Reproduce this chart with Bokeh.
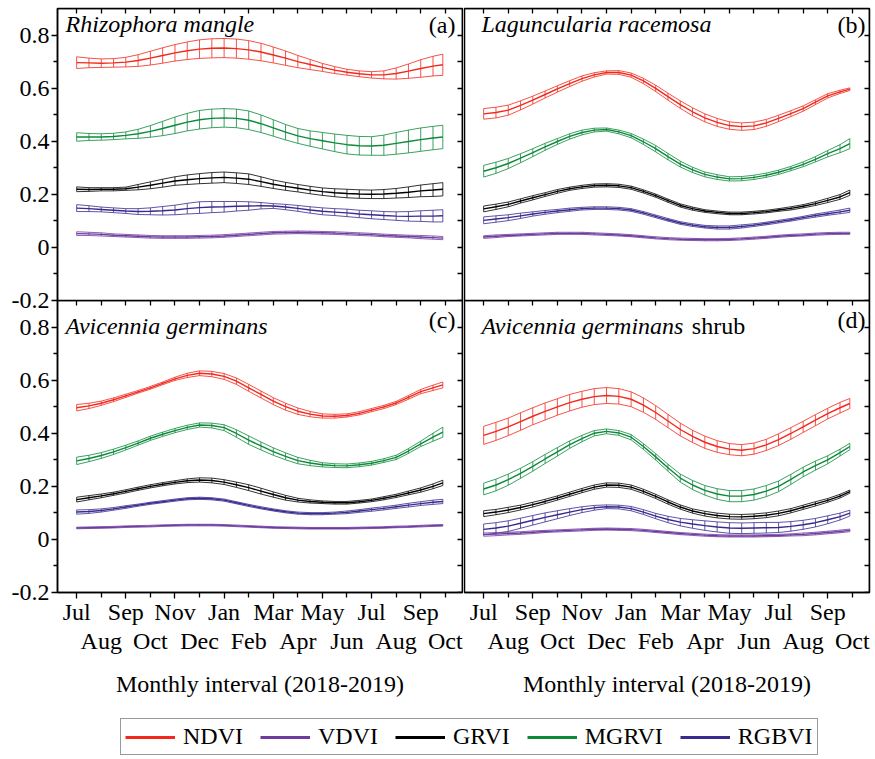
from bokeh.plotting import figure
from bokeh.models import Range1d, LinearAxis, FixedTicker, Label, Legend, LegendItem, ColumnDataSource
from bokeh.layouts import column, row
from bokeh.embed import file_html
from bokeh.resources import INLINE

# ---------------- data ----------------
months = [0.0, 0.5, 1.0, 1.5, 2.0, 2.5, 3.0, 3.5, 4.0, 4.5,
          5.0, 5.5, 6.0, 6.5, 7.0, 7.5, 8.0, 8.5, 9.0, 9.5,
          10.0, 10.5, 11.0, 11.5, 12.0, 12.5, 13.0, 13.5, 14.0, 14.5, 14.9]

x_top_ticks = [0, 2, 4, 6, 8, 10, 12, 14]
x_top_labels = ["Jul", "Sep", "Nov", "Jan", "Mar", "May", "Jul", "Sep"]
x_bot_ticks = [1, 3, 5, 7, 9, 11, 13, 15]
x_bot_labels = ["Aug", "Oct", "Dec", "Feb", "Apr", "Jun", "Aug", "Oct"]
y_ticks = [-0.2, 0.0, 0.2, 0.4, 0.6, 0.8]
y_tick_labels = ["-0.2", "0", "0.2", "0.4", "0.6", "0.8"]
y_minor_ticks = [-0.1, 0.1, 0.3, 0.5, 0.7]

series_names = ["NDVI", "VDVI", "GRVI", "MGRVI", "RGBVI"]

# (a) Rhizophora mangle
a_ndvi = [0.696, 0.695, 0.694, 0.695, 0.698, 0.704, 0.713, 0.723, 0.733, 0.741,
          0.747, 0.750, 0.751, 0.749, 0.744, 0.736, 0.725, 0.713, 0.700, 0.689,
          0.678, 0.668, 0.660, 0.654, 0.650, 0.650, 0.655, 0.664, 0.674, 0.683, 0.688]
a_ndvi_err = [0.022, 0.018, 0.016, 0.016, 0.018, 0.022, 0.026, 0.029, 0.031, 0.033,
              0.035, 0.036, 0.036, 0.036, 0.035, 0.033, 0.030, 0.027, 0.023, 0.019,
              0.015, 0.013, 0.011, 0.011, 0.012, 0.015, 0.021, 0.027, 0.033, 0.037, 0.040]
a_mgrvi = [0.416, 0.416, 0.416, 0.418, 0.422, 0.428, 0.437, 0.448, 0.460, 0.472,
           0.481, 0.486, 0.488, 0.486, 0.479, 0.466, 0.450, 0.434, 0.420, 0.410,
           0.402, 0.394, 0.387, 0.383, 0.382, 0.385, 0.392, 0.399, 0.406, 0.412, 0.416]
a_mgrvi_err = [0.016, 0.013, 0.012, 0.012, 0.013, 0.017, 0.022, 0.027, 0.031, 0.033,
               0.035, 0.035, 0.035, 0.035, 0.035, 0.033, 0.031, 0.029, 0.028, 0.029,
               0.031, 0.033, 0.035, 0.035, 0.035, 0.038, 0.041, 0.043, 0.044, 0.044, 0.044]
a_grvi = [0.219, 0.218, 0.219, 0.219, 0.221, 0.227, 0.234, 0.242, 0.250, 0.255,
          0.259, 0.262, 0.264, 0.261, 0.257, 0.248, 0.238, 0.230, 0.223, 0.216,
          0.210, 0.206, 0.203, 0.201, 0.200, 0.201, 0.204, 0.208, 0.213, 0.216, 0.219]
a_grvi_err = [0.009, 0.007, 0.006, 0.006, 0.006, 0.010, 0.013, 0.015, 0.016, 0.018,
              0.019, 0.020, 0.020, 0.020, 0.020, 0.018, 0.016, 0.015, 0.014, 0.014,
              0.014, 0.015, 0.016, 0.016, 0.016, 0.017, 0.018, 0.020, 0.022, 0.024, 0.025]
a_rgbvi = [0.148, 0.146, 0.143, 0.140, 0.137, 0.135, 0.136, 0.138, 0.141, 0.146,
           0.150, 0.152, 0.153, 0.155, 0.156, 0.157, 0.156, 0.152, 0.147, 0.141,
           0.136, 0.133, 0.130, 0.126, 0.123, 0.120, 0.118, 0.117, 0.118, 0.118, 0.119]
a_rgbvi_err = [0.013, 0.011, 0.009, 0.009, 0.009, 0.011, 0.013, 0.016, 0.018, 0.020,
               0.022, 0.021, 0.020, 0.018, 0.016, 0.012, 0.009, 0.010, 0.011, 0.012,
               0.013, 0.013, 0.014, 0.014, 0.015, 0.015, 0.016, 0.018, 0.020, 0.022, 0.023]
a_vdvi = [0.052, 0.051, 0.049, 0.046, 0.044, 0.042, 0.040, 0.039, 0.039, 0.039,
          0.040, 0.041, 0.043, 0.046, 0.049, 0.052, 0.055, 0.056, 0.057, 0.056,
          0.055, 0.054, 0.052, 0.050, 0.048, 0.045, 0.043, 0.041, 0.039, 0.037, 0.035]
a_vdvi_err = [0.007, 0.006, 0.006, 0.005, 0.005, 0.005, 0.005, 0.005, 0.005, 0.005,
              0.005, 0.005, 0.005, 0.005, 0.005, 0.005, 0.005, 0.005, 0.005, 0.005,
              0.005, 0.005, 0.005, 0.005, 0.005, 0.005, 0.005, 0.005, 0.006, 0.006, 0.006]

# (b) Laguncularia racemosa
b_ndvi = [0.503, 0.508, 0.517, 0.535, 0.555, 0.576, 0.597, 0.617, 0.636, 0.650,
          0.659, 0.659, 0.649, 0.627, 0.599, 0.568, 0.538, 0.511, 0.488, 0.471,
          0.459, 0.455, 0.458, 0.469, 0.486, 0.504, 0.523, 0.547, 0.571, 0.586, 0.596]
b_ndvi_err = [0.020, 0.020, 0.019, 0.017, 0.015, 0.013, 0.012, 0.011, 0.010, 0.008,
              0.006, 0.007, 0.008, 0.010, 0.012, 0.013, 0.014, 0.015, 0.015, 0.015,
              0.014, 0.014, 0.014, 0.013, 0.012, 0.011, 0.010, 0.009, 0.008, 0.006, 0.005]
b_mgrvi = [0.287, 0.300, 0.316, 0.336, 0.357, 0.379, 0.399, 0.418, 0.433, 0.442,
           0.444, 0.435, 0.421, 0.398, 0.372, 0.342, 0.314, 0.292, 0.275, 0.265,
           0.258, 0.259, 0.264, 0.272, 0.283, 0.297, 0.313, 0.332, 0.353, 0.372, 0.391]
b_mgrvi_err = [0.022, 0.021, 0.019, 0.017, 0.015, 0.013, 0.011, 0.010, 0.009, 0.007,
               0.006, 0.007, 0.008, 0.010, 0.012, 0.012, 0.011, 0.010, 0.009, 0.009,
               0.008, 0.008, 0.008, 0.008, 0.008, 0.008, 0.009, 0.010, 0.012, 0.015, 0.019]
b_grvi = [0.145, 0.153, 0.162, 0.175, 0.187, 0.199, 0.211, 0.221, 0.228, 0.233,
          0.234, 0.232, 0.225, 0.211, 0.195, 0.176, 0.158, 0.146, 0.137, 0.132,
          0.128, 0.128, 0.131, 0.135, 0.141, 0.147, 0.155, 0.165, 0.177, 0.190, 0.206]
b_grvi_err = [0.011, 0.010, 0.009, 0.008, 0.008, 0.007, 0.007, 0.006, 0.006, 0.006,
              0.006, 0.006, 0.006, 0.006, 0.006, 0.006, 0.006, 0.006, 0.005, 0.005,
              0.005, 0.005, 0.005, 0.005, 0.005, 0.006, 0.006, 0.007, 0.008, 0.009, 0.010]
b_rgbvi = [0.102, 0.107, 0.112, 0.119, 0.126, 0.132, 0.137, 0.142, 0.146, 0.148,
           0.148, 0.146, 0.141, 0.130, 0.117, 0.104, 0.092, 0.084, 0.078, 0.075,
           0.075, 0.079, 0.084, 0.090, 0.097, 0.104, 0.112, 0.120, 0.127, 0.134, 0.140]
b_rgbvi_err = [0.013, 0.012, 0.011, 0.010, 0.008, 0.007, 0.006, 0.006, 0.005, 0.005,
               0.005, 0.005, 0.005, 0.005, 0.005, 0.005, 0.005, 0.005, 0.005, 0.006,
               0.006, 0.006, 0.005, 0.005, 0.005, 0.005, 0.005, 0.006, 0.006, 0.007, 0.008]
b_vdvi = [0.039, 0.042, 0.045, 0.047, 0.049, 0.051, 0.053, 0.053, 0.053, 0.051,
          0.049, 0.047, 0.044, 0.040, 0.036, 0.033, 0.031, 0.030, 0.029, 0.029,
          0.030, 0.032, 0.035, 0.038, 0.042, 0.045, 0.047, 0.050, 0.052, 0.053, 0.053]
b_vdvi_err = [0.005, 0.005, 0.004, 0.004, 0.004, 0.004, 0.004, 0.004, 0.004, 0.004,
              0.004, 0.004, 0.004, 0.004, 0.004, 0.004, 0.004, 0.004, 0.004, 0.004,
              0.004, 0.004, 0.004, 0.004, 0.004, 0.004, 0.004, 0.004, 0.004, 0.004, 0.004]

# (c) Avicennia germinans
c_ndvi = [0.496, 0.503, 0.513, 0.526, 0.541, 0.556, 0.571, 0.588, 0.605, 0.618,
          0.626, 0.623, 0.614, 0.596, 0.571, 0.546, 0.521, 0.500, 0.483, 0.472,
          0.465, 0.464, 0.467, 0.475, 0.487, 0.499, 0.514, 0.535, 0.557, 0.571, 0.582]
c_ndvi_err = [0.012, 0.010, 0.008, 0.007, 0.006, 0.005, 0.005, 0.005, 0.006, 0.008,
              0.009, 0.010, 0.011, 0.012, 0.013, 0.013, 0.013, 0.013, 0.012, 0.010,
              0.008, 0.007, 0.006, 0.006, 0.006, 0.006, 0.006, 0.007, 0.008, 0.010, 0.011]
c_mgrvi = [0.296, 0.305, 0.316, 0.330, 0.346, 0.363, 0.381, 0.396, 0.410, 0.422,
           0.431, 0.429, 0.421, 0.399, 0.374, 0.352, 0.331, 0.313, 0.297, 0.288,
           0.281, 0.278, 0.277, 0.281, 0.287, 0.297, 0.309, 0.333, 0.360, 0.385, 0.404]
c_mgrvi_err = [0.014, 0.012, 0.011, 0.010, 0.009, 0.008, 0.008, 0.008, 0.008, 0.008,
               0.008, 0.009, 0.011, 0.014, 0.016, 0.015, 0.014, 0.013, 0.012, 0.010,
               0.008, 0.007, 0.007, 0.007, 0.007, 0.007, 0.008, 0.009, 0.010, 0.015, 0.019]
c_grvi = [0.150, 0.157, 0.164, 0.172, 0.181, 0.191, 0.200, 0.208, 0.215, 0.221,
          0.224, 0.222, 0.216, 0.206, 0.195, 0.182, 0.169, 0.157, 0.148, 0.143,
          0.140, 0.138, 0.138, 0.142, 0.147, 0.155, 0.164, 0.175, 0.186, 0.200, 0.213]
c_grvi_err = [0.009, 0.008, 0.007, 0.006, 0.006, 0.006, 0.006, 0.006, 0.006, 0.007,
              0.008, 0.009, 0.009, 0.010, 0.011, 0.011, 0.010, 0.009, 0.007, 0.006,
              0.005, 0.005, 0.005, 0.005, 0.005, 0.006, 0.006, 0.007, 0.008, 0.009, 0.010]
c_rgbvi = [0.103, 0.105, 0.109, 0.115, 0.122, 0.129, 0.136, 0.142, 0.148, 0.153,
           0.155, 0.153, 0.148, 0.138, 0.128, 0.119, 0.111, 0.104, 0.099, 0.097,
           0.097, 0.099, 0.102, 0.107, 0.112, 0.117, 0.123, 0.129, 0.135, 0.140, 0.143]
c_rgbvi_err = [0.008, 0.007, 0.006, 0.005, 0.005, 0.004, 0.004, 0.004, 0.004, 0.004,
               0.004, 0.004, 0.004, 0.004, 0.004, 0.004, 0.004, 0.004, 0.004, 0.004,
               0.004, 0.004, 0.005, 0.005, 0.006, 0.006, 0.006, 0.007, 0.007, 0.008, 0.008]
c_vdvi = [0.043, 0.044, 0.045, 0.046, 0.048, 0.049, 0.050, 0.052, 0.053, 0.054,
          0.054, 0.054, 0.053, 0.051, 0.049, 0.047, 0.045, 0.044, 0.043, 0.042,
          0.042, 0.042, 0.042, 0.043, 0.044, 0.045, 0.047, 0.048, 0.050, 0.052, 0.053]
c_vdvi_err = [0.003, 0.003, 0.003, 0.003, 0.003, 0.003, 0.003, 0.003, 0.003, 0.003,
              0.003, 0.003, 0.003, 0.003, 0.003, 0.003, 0.003, 0.003, 0.003, 0.003,
              0.003, 0.003, 0.003, 0.003, 0.003, 0.003, 0.003, 0.003, 0.003, 0.003, 0.003]

# (d) Avicennia germinans shrub
d_ndvi = [0.392, 0.407, 0.424, 0.444, 0.464, 0.482, 0.499, 0.515, 0.528, 0.538,
          0.542, 0.539, 0.528, 0.506, 0.478, 0.446, 0.414, 0.388, 0.366, 0.350,
          0.340, 0.336, 0.342, 0.356, 0.376, 0.399, 0.424, 0.449, 0.474, 0.496, 0.512]
d_ndvi_err = [0.034, 0.034, 0.033, 0.033, 0.032, 0.032, 0.031, 0.031, 0.030, 0.030,
              0.030, 0.029, 0.028, 0.027, 0.026, 0.025, 0.024, 0.023, 0.023, 0.022,
              0.021, 0.021, 0.021, 0.021, 0.022, 0.022, 0.021, 0.021, 0.020, 0.020, 0.019]
d_mgrvi = [0.190, 0.205, 0.225, 0.249, 0.275, 0.303, 0.330, 0.357, 0.380, 0.400,
           0.407, 0.401, 0.385, 0.350, 0.311, 0.270, 0.231, 0.205, 0.185, 0.171,
           0.163, 0.163, 0.169, 0.182, 0.200, 0.226, 0.254, 0.278, 0.300, 0.327, 0.350]
d_mgrvi_err = [0.022, 0.022, 0.021, 0.019, 0.018, 0.017, 0.016, 0.014, 0.012, 0.010,
               0.009, 0.009, 0.010, 0.011, 0.012, 0.013, 0.015, 0.017, 0.018, 0.020,
               0.021, 0.021, 0.021, 0.021, 0.020, 0.019, 0.018, 0.017, 0.015, 0.013, 0.012]
d_grvi = [0.097, 0.103, 0.111, 0.120, 0.131, 0.143, 0.156, 0.170, 0.184, 0.197,
          0.205, 0.204, 0.197, 0.181, 0.162, 0.141, 0.122, 0.107, 0.097, 0.090,
          0.086, 0.085, 0.087, 0.091, 0.098, 0.108, 0.121, 0.134, 0.147, 0.163, 0.180]
d_grvi_err = [0.011, 0.010, 0.010, 0.009, 0.009, 0.008, 0.008, 0.008, 0.008, 0.008,
              0.008, 0.008, 0.008, 0.008, 0.008, 0.008, 0.008, 0.008, 0.009, 0.009,
              0.009, 0.009, 0.009, 0.009, 0.009, 0.008, 0.008, 0.008, 0.007, 0.007, 0.006]
d_rgbvi = [0.038, 0.043, 0.050, 0.061, 0.072, 0.083, 0.093, 0.103, 0.112, 0.119,
           0.123, 0.122, 0.116, 0.103, 0.088, 0.075, 0.065, 0.058, 0.052, 0.047,
           0.043, 0.042, 0.043, 0.044, 0.045, 0.049, 0.055, 0.063, 0.074, 0.086, 0.099]
d_rgbvi_err = [0.020, 0.020, 0.020, 0.019, 0.018, 0.017, 0.015, 0.013, 0.011, 0.009,
               0.007, 0.007, 0.008, 0.009, 0.010, 0.012, 0.014, 0.016, 0.018, 0.019,
               0.020, 0.020, 0.020, 0.020, 0.019, 0.018, 0.017, 0.016, 0.015, 0.013, 0.011]
d_vdvi = [0.018, 0.020, 0.022, 0.024, 0.027, 0.030, 0.032, 0.034, 0.036, 0.038,
          0.039, 0.038, 0.037, 0.034, 0.030, 0.026, 0.022, 0.019, 0.016, 0.014,
          0.013, 0.013, 0.013, 0.014, 0.015, 0.017, 0.019, 0.022, 0.026, 0.030, 0.034]
d_vdvi_err = [0.006, 0.006, 0.005, 0.005, 0.005, 0.004, 0.004, 0.004, 0.004, 0.004,
              0.004, 0.004, 0.004, 0.004, 0.004, 0.004, 0.004, 0.004, 0.004, 0.004,
              0.004, 0.004, 0.004, 0.004, 0.004, 0.004, 0.005, 0.005, 0.005, 0.005, 0.005]

# ---------------- styling ----------------
FONT = "Liberation Serif"
COLORS = {"NDVI": "#f3281c", "VDVI": "#6e3b9f", "GRVI": "#000000",
          "MGRVI": "#0c8a3a", "RGBVI": "#372b8e"}
X_RANGE = (-0.78, 15.7)
Y_RANGE = (-0.2, 0.9)
TICK_FONT = "24px"


def base_axis(ax):
    ax.axis_line_color = "black"
    ax.axis_line_width = 1.5
    ax.major_tick_line_color = "black"
    ax.major_tick_line_width = 1.3
    ax.minor_tick_line_color = "black"
    ax.minor_tick_line_width = 1.3
    ax.major_label_text_font = FONT
    ax.major_label_text_font_size = TICK_FONT
    ax.major_label_text_color = "black"
    return ax


def mirror_axis(positions, loc):
    # tick marks only (no labels), pinned to the frame edge so it takes no room
    ax = LinearAxis(ticker=FixedTicker(ticks=[], minor_ticks=positions), fixed_location=loc)
    ax.axis_line_color = "black"
    ax.axis_line_width = 1.5
    ax.major_tick_line_color = None
    ax.minor_tick_line_color = "black"
    ax.minor_tick_line_width = 1.3
    ax.minor_tick_in = 5
    ax.minor_tick_out = 0
    ax.major_tick_in = 0
    ax.major_tick_out = 0
    ax.major_label_standoff = 0
    return ax


def make_panel(data, left, bottom, width, height, borders, title, title_x, title_y,
               tag, tag_x, tag_y, extra=None):
    bl, br, bt, bb = borders
    p = figure(width=width, height=height, x_range=Range1d(*X_RANGE), y_range=Range1d(*Y_RANGE),
               x_axis_location=None, y_axis_location=None, toolbar_location=None,
               output_backend="svg", min_border_left=bl, min_border_right=br,
               min_border_top=bt, min_border_bottom=bb)
    p.grid.grid_line_color = None
    p.outline_line_color = "black"
    p.outline_line_width = 1.5
    p.outline_line_alpha = 1.0

    for name in ["NDVI", "MGRVI", "GRVI", "RGBVI", "VDVI"]:
        m, e = data[name]
        col = COLORS[name]
        src = ColumnDataSource(dict(x=months, y=m,
                                    up=[a + b for a, b in zip(m, e)],
                                    lo=[a - b for a, b in zip(m, e)]))
        p.segment(x0="x", y0="lo", x1="x", y1="up", source=src,
                  line_color=col, line_width=1.0, line_alpha=0.8)
        p.line("x", "up", source=src, line_color=col, line_width=1.0, line_alpha=0.8)
        p.line("x", "lo", source=src, line_color=col, line_width=1.0, line_alpha=0.8)
        p.line("x", "y", source=src, line_color=col, line_width=1.4)

    if left:
        yl = base_axis(LinearAxis(ticker=FixedTicker(ticks=y_ticks, minor_ticks=y_minor_ticks),
                                  major_label_overrides=dict(zip(y_ticks, y_tick_labels))))
        yl.major_tick_in = 0
        yl.major_tick_out = 6
        yl.minor_tick_in = 0
        yl.minor_tick_out = 4
        yl.major_label_standoff = 2
        p.add_layout(yl, "left")
    p.add_layout(mirror_axis(y_ticks + y_minor_ticks, X_RANGE[1]), "right")
    p.add_layout(mirror_axis(x_top_ticks + x_bot_ticks, Y_RANGE[1]), "above")
    if bottom:
        xb = base_axis(LinearAxis(ticker=FixedTicker(ticks=x_top_ticks, minor_ticks=x_bot_ticks),
                                  major_label_overrides=dict(zip(x_top_ticks, x_top_labels))))
        xb.major_tick_in = 0
        xb.major_tick_out = 6
        xb.minor_tick_in = 0
        xb.minor_tick_out = 5
        xb.major_label_standoff = 0
        p.add_layout(xb, "below")
        xb2 = base_axis(LinearAxis(ticker=FixedTicker(ticks=x_bot_ticks, minor_ticks=[]),
                                   major_label_overrides=dict(zip(x_bot_ticks, x_bot_labels)),
                                   axis_label="Monthly interval (2018-2019)"))
        xb2.axis_line_color = None
        xb2.major_tick_line_color = None
        xb2.minor_tick_line_color = None
        xb2.major_tick_in = 0
        xb2.major_tick_out = 0
        xb2.minor_tick_in = 0
        xb2.minor_tick_out = 0
        xb2.major_label_standoff = 0
        xb2.axis_label_standoff = 14
        xb2.axis_label_text_font = FONT
        xb2.axis_label_text_font_size = TICK_FONT
        xb2.axis_label_text_font_style = "normal"
        xb2.axis_label_text_color = "black"
        p.add_layout(xb2, "below")
        p.border_fill_color = None

    p.add_layout(Label(x=title_x, y=title_y, text=title, text_font=FONT,
                       text_font_style="italic", text_font_size="24px",
                       text_baseline="top", text_align="left", text_color="black"))
    if extra is not None:
        p.add_layout(Label(x=extra[1], y=title_y, text=extra[0], text_font=FONT,
                           text_font_style="normal", text_font_size="24px",
                           text_baseline="top", text_align="left", text_color="black"))
    p.add_layout(Label(x=tag_x, y=tag_y, text=tag, text_font=FONT,
                       text_font_size="24px", text_baseline="top", text_align="right",
                       text_color="black"))
    return p


def pack(pairs):
    return dict(zip(series_names, pairs))


data_a = pack([(a_ndvi, a_ndvi_err), (a_vdvi, a_vdvi_err), (a_grvi, a_grvi_err),
               (a_mgrvi, a_mgrvi_err), (a_rgbvi, a_rgbvi_err)])
data_b = pack([(b_ndvi, b_ndvi_err), (b_vdvi, b_vdvi_err), (b_grvi, b_grvi_err),
               (b_mgrvi, b_mgrvi_err), (b_rgbvi, b_rgbvi_err)])
data_c = pack([(c_ndvi, c_ndvi_err), (c_vdvi, c_vdvi_err), (c_grvi, c_grvi_err),
               (c_mgrvi, c_mgrvi_err), (c_rgbvi, c_rgbvi_err)])
data_d = pack([(d_ndvi, d_ndvi_err), (d_vdvi, d_vdvi_err), (d_grvi, d_grvi_err),
               (d_mgrvi, d_mgrvi_err), (d_rgbvi, d_rgbvi_err)])

pa = make_panel(data_a, True, False, 463, 312, (57, 1, 8, 12), "Rhizophora mangle", -0.45, 0.892,
                "(a)", 15.41, 0.886)
pb = make_panel(data_b, False, False, 410, 312, (1, 4, 8, 12), "Laguncularia racemosa", -0.09, 0.892,
                "(b)", 15.54, 0.886)
pc = make_panel(data_c, True, True, 463, 400, (57, 1, 0, 108), "Avicennia germinans", -0.45, 0.852,
                "(c)", 15.41, 0.876)
pd = make_panel(data_d, False, True, 410, 400, (1, 4, 0, 108), "Avicennia germinans", -0.09, 0.852,
                "(d)", 15.54, 0.876, extra=("shrub", 8.47))

# legend panel
pleg = figure(width=873, height=57, x_range=Range1d(0, 1), y_range=Range1d(0, 1),
              x_axis_location=None, y_axis_location=None, toolbar_location=None,
              output_backend="svg", min_border=0)
pleg.grid.grid_line_color = None
pleg.outline_line_color = None
items = []
for name in series_names:
    r = pleg.line(x=[-5, -4], y=[-5, -5], line_color=COLORS[name], line_width=3)
    items.append(LegendItem(label=name, renderers=[r]))
leg = Legend(items=items, orientation="horizontal", location=(120, 2),
             label_text_font=FONT, label_text_font_size="24px", label_text_color="black",
             glyph_width=50, glyph_height=20, label_standoff=8, spacing=17, padding=4,
             margin=0, border_line_color="#333333", border_line_width=1.2,
             background_fill_color="white", background_fill_alpha=1.0)
pleg.add_layout(leg)

top = row(pa, pb)
bottom = row(pc, pd, margin=(-12, 0, 0, 0))
layout = column(top, bottom, pleg)

open("out.html", "w").write(file_html(layout, INLINE, title="Vegetation indices"))
